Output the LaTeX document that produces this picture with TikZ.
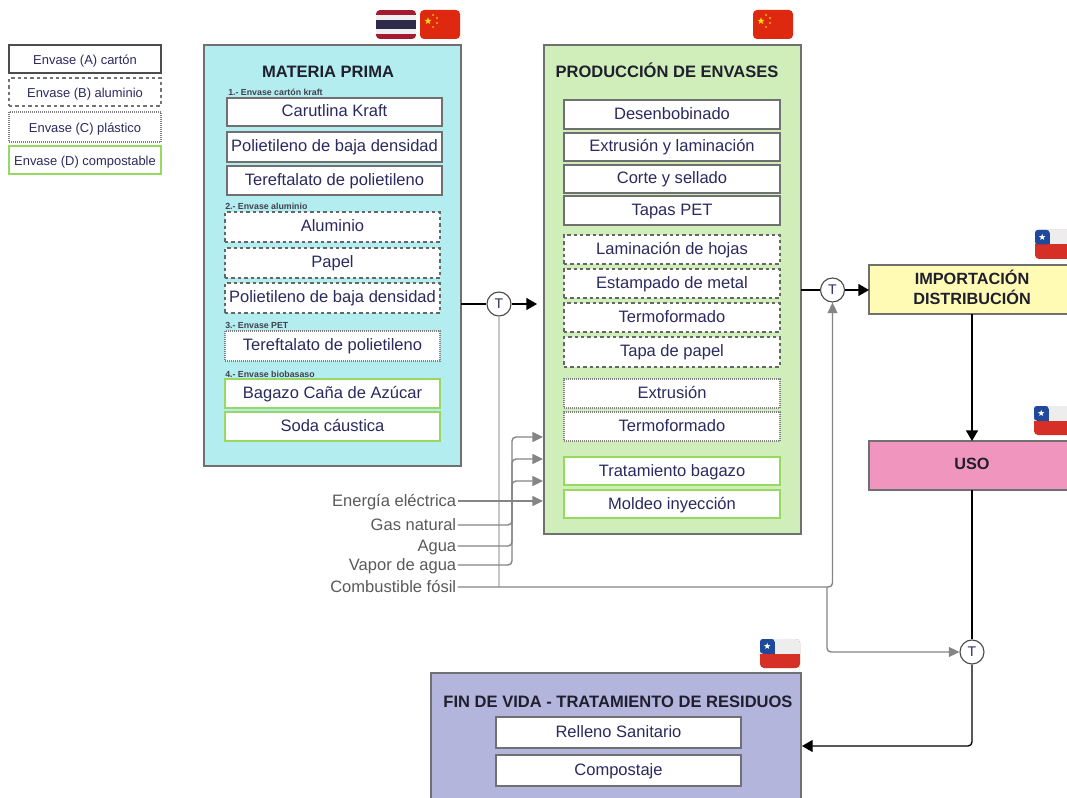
\documentclass[tikz,border=0pt]{standalone}
\usepackage{fontspec}
\setmainfont{Liberation Sans}
\usetikzlibrary{arrows.meta,shapes.geometric,calc}
\definecolor{ink}{HTML}{2B2A5E}
\definecolor{lab}{HTML}{5A5A5A}
\definecolor{edgeg}{HTML}{707070}
\definecolor{grn}{HTML}{97D860}
\definecolor{darkt}{HTML}{1F1F2E}
\definecolor{cnred}{HTML}{DE2910}
\definecolor{cnyel}{HTML}{FFDE00}
\definecolor{chblue}{HTML}{1F4A9C}
\definecolor{chred}{HTML}{D52F26}
\definecolor{chwh}{HTML}{EDEDED}
\definecolor{thred}{HTML}{A51931}
\definecolor{thblue}{HTML}{2D2A4A}
\definecolor{thwh}{HTML}{F0F0F0}
\definecolor{matfill}{HTML}{B3EDF0}
\definecolor{prodfill}{HTML}{D0EEB9}
\definecolor{finfill}{HTML}{B3B5DD}
\definecolor{impfill}{HTML}{FFFBB5}
\definecolor{usofill}{HTML}{F096BE}
\tikzset{
  boxbase/.style={rectangle,inner sep=0pt,outer sep=0pt,fill=white,line width=0.85pt,text=ink,align=center,text height=9.2pt,text depth=1.7pt,font=\fontsize{12.4pt}{14pt}\selectfont},
  solidbox/.style={boxbase,draw=edgeg},
  dashbox/.style={boxbase,draw=black!60,line width=0.8pt,dash pattern=on 2.6pt off 2.2pt},
  dotbox/.style={boxbase,draw=black!50,line width=0.8pt,dash pattern=on 0.75pt off 0.75pt},
  greenbox/.style={boxbase,draw=grn},
  legendtext/.style={text height=8pt,text depth=0pt,font=\fontsize{9.7pt}{11pt}\selectfont},
  panel/.style={rectangle,inner sep=0pt,outer sep=0pt,draw=edgeg,line width=0.85pt},
  paneltitle/.style={inner sep=0pt,text=darkt,text height=10pt,text depth=1pt,font=\bfseries\fontsize{12.4pt}{14pt}\selectfont},
  steptitle/.style={rectangle,inner sep=0pt,outer sep=0pt,draw=edgeg,line width=0.85pt,align=center,text=darkt,font=\bfseries\fontsize{12.2pt}{14pt}\selectfont},
  sublabel/.style={inner sep=0pt,anchor=west,text=darkt!85,font=\bfseries\fontsize{6.6pt}{8pt}\selectfont},
  inputlabel/.style={inner sep=0pt,outer sep=1pt,anchor=east,text=lab,text height=9.2pt,text depth=1.7pt,font=\fontsize{12.4pt}{14pt}\selectfont},
  tcircle/.style={circle,draw=black!70,fill=white,line width=0.85pt,minimum size=18pt,inner sep=0pt,text=ink,font=\fontsize{10.5pt}{12pt}\selectfont},
  mainflow/.style={draw=black,line width=1pt,-{Triangle[length=8pt,width=9pt]},rounded corners=3pt},
  mainline/.style={draw=black,line width=1pt},
  inflow/.style={draw=black!48,line width=1.05pt,-{Triangle[length=8pt,width=7.5pt]},rounded corners=3pt},
  faint/.style={draw=black!22,line width=1pt},
}
% name, style, x1,y1,x2,y2, text
\newcommand{\bx}[7]{\node[#2,minimum width={(#5-#3)*0.75pt},minimum height={(#6-#4)*0.75pt}] (#1) at ({(#3+#5)/2},{(#4+#6)/2}) {#7};}
\newcommand{\flagthai}[2]{\begin{scope}[shift={(#1,#2)}]
  \clip[rounded corners=3pt] (0,0) rectangle (40,29);
  \fill[thred] (0,0) rectangle (40,29);
  \fill[thwh] (0,5) rectangle (40,24);
  \fill[thblue] (0,10) rectangle (40,19);
\end{scope}}
\newcommand{\flagchina}[2]{\begin{scope}[shift={(#1,#2)}]
  \fill[cnred,rounded corners=3pt] (0,0) rectangle (40,29);
  \node[star,star points=5,star point ratio=2.4,fill=cnyel,inner sep=0pt,minimum size=5.5pt] at (8,11) {};
  \foreach \sx/\sy in {13/5,17/8,17/13,13/17}{\node[star,star points=5,star point ratio=2.4,fill=cnyel,inner sep=0pt,minimum size=1.8pt] at (\sx,\sy) {};}
\end{scope}}
\newcommand{\flagchile}[2]{\begin{scope}[shift={(#1,#2)}]
  \fill[chred,rounded corners=3pt] (0,0) rectangle (40,29);
  \fill[chwh,rounded corners=3pt] (0,0) rectangle (40,18);
  \fill[chred] (0,14.5) rectangle (40,20);
  \fill[chblue,rounded corners=2pt] (0,0) rectangle (14.5,14.5);
  \fill[chblue] (3,3) rectangle (14.5,14.5);
  \node[star,star points=5,star point ratio=2.4,fill=white,inner sep=0pt,minimum size=5pt] at (7.2,7.2) {};
\end{scope}}
\begin{document}
\begin{tikzpicture}[x=0.75pt,y=-0.75pt]
\clip (0,0) rectangle (1067,798);
\fill[white] (0,0) rectangle (1067,798);
% legend
\bx{la}{solidbox,draw=black!70,legendtext}{9}{45}{161}{73}{Envase (A) cartón}
\bx{lb}{dashbox,draw=black!55,legendtext}{9}{78}{161}{106}{Envase (B) aluminio}
\bx{lc}{dotbox,legendtext}{9}{112}{161}{142}{Envase (C) plástico}
\bx{ld}{greenbox,legendtext}{9}{146}{161}{174}{Envase (D) compostable}
% panels
\bx{mat}{panel,fill=matfill}{204}{45}{461}{466}{}
\bx{prod}{panel,fill=prodfill}{544}{45}{801}{534}{}
\bx{fin}{panel,fill=finfill}{431}{673}{801}{830}{}
\bx{imp}{steptitle,fill=impfill}{869}{265}{1075}{314}{\raisebox{2.8pt}{\shortstack{IMPORTACIÓN\\[1pt]DISTRIBUCIÓN}}}
\bx{uso}{steptitle,fill=usofill}{869}{441}{1075}{490}{\raisebox{2.3pt}{USO}}
% titles
\node[paneltitle] (tmat) at (328,72) {MATERIA PRIMA};
\node[paneltitle] (tprod) at (667,72) {PRODUCCIÓN DE ENVASES};
\node[paneltitle] (tfin) at (618,701) {FIN DE VIDA - TRATAMIENTO DE RESIDUOS};
% materia prima
\node[sublabel] (s1) at (228,92) {1.- Envase cartón kraft};
\bx{m1}{solidbox}{227}{98}{442}{126}{Carutlina Kraft}
\bx{m2}{solidbox}{227}{132}{442}{162}{Polietileno de baja densidad}
\bx{m3}{solidbox}{227}{166}{442}{195}{Tereftalato de polietileno}
\node[sublabel] (s2) at (225,206) {2.- Envase aluminio};
\bx{m4}{dashbox}{225}{212}{440}{242}{Aluminio}
\bx{m5}{dashbox}{225}{248}{440}{278}{Papel}
\bx{m6}{dashbox}{225}{283}{440}{313}{Polietileno de baja densidad}
\node[sublabel] (s3) at (225,325) {3.- Envase PET};
\bx{m7}{dotbox}{225}{331}{440}{361}{Tereftalato de polietileno}
\node[sublabel] (s4) at (225,374) {4.- Envase biobasaso};
\bx{m8}{greenbox}{225}{379}{440}{408}{Bagazo Caña de Azúcar}
\bx{m9}{greenbox}{225}{412}{440}{441}{Soda cáustica}
% produccion
\bx{p1}{solidbox}{564}{100}{780}{129}{Desenbobinado}
\bx{p2}{solidbox}{564}{133}{780}{161}{Extrusión y laminación}
\bx{p3}{solidbox}{564}{165}{780}{193}{Corte y sellado}
\bx{p4}{solidbox}{564}{196}{780}{225}{Tapas PET}
\bx{p5}{dashbox}{564}{235}{780}{264}{Laminación de hojas}
\bx{p6}{dashbox}{564}{269}{780}{298}{Estampado de metal}
\bx{p7}{dashbox}{564}{303}{780}{332}{Termoformado}
\bx{p8}{dashbox}{564}{337}{780}{367}{Tapa de papel}
\bx{p9}{dotbox}{564}{379}{780}{408}{Extrusión}
\bx{p10}{dotbox}{564}{412}{780}{441}{Termoformado}
\bx{p11}{greenbox}{564}{457}{780}{485}{Tratamiento bagazo}
\bx{p12}{greenbox}{564}{490}{780}{518}{Moldeo inyección}
% fin de vida
\bx{f1}{solidbox}{496}{717}{741}{748}{Relleno Sanitario}
\bx{f2}{solidbox}{496}{755}{741}{786}{Compostaje}
% input labels
\node[inputlabel] (ie) at (457.5,501) {Energía eléctrica};
\node[inputlabel] (ig) at (457.5,525) {Gas natural};
\node[inputlabel] (ia) at (457.5,546) {Agua};
\node[inputlabel] (iv) at (457.5,565) {Vapor de agua};
\node[inputlabel] (ic) at (457.5,587) {Combustible fósil};
% T circles
\node[tcircle] (t1) at (499,304) {T};
\node[tcircle] (t2) at (832.5,290) {T};
\node[tcircle] (t3) at (972,652) {T};
% free ends
\coordinate (pin) at (537,304);
\coordinate (e1) at (543,437);
\coordinate (e2) at (543,459);
\coordinate (e3) at (543,481);
\coordinate (e4) at (543,500);
\coordinate (jn) at (827,587);
\coordinate (fe) at (802,746);
\coordinate (v1) at (512,565);
\coordinate (v2) at (512,546);
\coordinate (v3) at (512,525);
% connectors
\draw[faint] (t1.south) -- (t1.south |- ic.east);
\draw[mainline] (mat.east |- t1.west) -- (t1.west);
\draw[mainflow] (t1.east) -- (pin);
\draw[mainline] (prod.east |- t2.west) -- (t2.west);
\draw[mainflow] (t2.east) -- (imp.west |- t2.east);
\draw[mainflow] (imp.south -| t3) -- (uso.north -| t3);
\draw[mainline] (uso.south -| t3) -- (t3.north);
\draw[mainflow] (t3.south) |- (fe);
\draw[inflow] (iv.east) -- (v1) |- (e1);
\draw[inflow] (ia.east) -- (v2) |- (e2);
\draw[inflow] (ig.east) -- (v3) |- (e3);
\draw[inflow] (ie.east) -- (ie.east -| e4);
\draw[inflow] (ic.east) -| (t2.south);
\draw[inflow] (jn) |- (t3.west);
% flags
\flagthai{376}{10}
\flagchina{420}{10}
\flagchina{753}{10}
\flagchile{1035}{230}
\flagchile{1034}{406}
\flagchile{760}{639}
\end{tikzpicture}
\end{document}
